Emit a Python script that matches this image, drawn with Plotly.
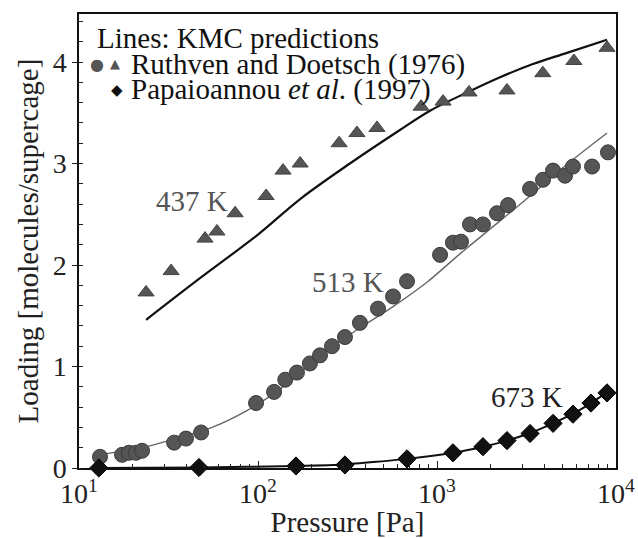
import plotly.graph_objects as go

# 437 K - Ruthven and Doetsch (1976), triangles
p_437 = [23.7, 32.7, 50.6, 59, 74.5, 111, 138, 172, 284, 357, 462, 815, 1081, 1510, 2460, 3900, 5820, 8910]
q_437 = [1.73, 1.94, 2.26, 2.33, 2.51, 2.68, 2.93, 3.00, 3.20, 3.30, 3.35, 3.56, 3.61, 3.70, 3.72, 3.89, 4.01, 4.14]

# 513 K - Ruthven and Doetsch (1976), circles
p_513 = [13.1, 17.4, 19.0, 20.8, 22.5, 34.0, 39.6, 48.1, 97.5, 123, 142, 165, 195, 222, 259, 306,
         371, 468, 568, 680, 1040, 1228, 1361, 1528, 1806, 2163, 2494, 3310, 3911, 4449, 5190, 5750, 7350, 9020]
q_513 = [0.11, 0.13, 0.15, 0.15, 0.17, 0.25, 0.29, 0.35, 0.64, 0.75, 0.87, 0.94, 1.03, 1.11, 1.20, 1.29,
         1.43, 1.57, 1.69, 1.84, 2.10, 2.22, 2.23, 2.40, 2.40, 2.51, 2.59, 2.75, 2.84, 2.93, 2.88, 2.97, 2.97, 3.11]

# 673 K - Papaioannou et al. (1997), diamonds
p_673 = [12.9, 46.8, 163, 306, 680, 1228, 1806, 2460, 3310, 4450, 5750, 7250, 8910]
q_673 = [0.0, 0.005, 0.02, 0.03, 0.09, 0.15, 0.21, 0.27, 0.34, 0.44, 0.53, 0.64, 0.74]

# KMC predictions (lines)
kmc_p_437 = [23.7, 47.4, 100, 172, 326, 621, 914, 1472, 2250, 3436, 5321, 8913]
kmc_q_437 = [1.46, 1.87, 2.30, 2.65, 3.00, 3.33, 3.52, 3.70, 3.85, 3.98, 4.09, 4.22]

kmc_p_513 = [13.1, 23.7, 36.2, 55.4, 85.7, 131, 243, 371, 568, 879, 1343, 2163, 3310, 5060, 8910]
kmc_q_513 = [0.13, 0.21, 0.30, 0.40, 0.56, 0.77, 1.16, 1.38, 1.59, 1.83, 2.11, 2.41, 2.68, 2.96, 3.30]

kmc_p_673 = [12.9, 46.8, 163, 306, 680, 1228, 1806, 2460, 3310, 4450, 5750, 7250, 8910]
kmc_q_673 = [0.0, 0.005, 0.02, 0.035, 0.09, 0.15, 0.21, 0.27, 0.345, 0.44, 0.535, 0.64, 0.745]

x_tickvals = [10, 100, 1000, 10000]
x_ticktext = ["10<sup>1</sup>", "10<sup>2</sup>", "10<sup>3</sup>", "10<sup>4</sup>"]

FONT = "Liberation Serif"
GREY = "#555555"

fig = go.Figure()

fig.add_trace(go.Scatter(x=kmc_p_437, y=kmc_q_437, mode="lines", cliponaxis=False,
                         line=dict(color="#111111", width=2.2, shape="spline", smoothing=1.0)))
fig.add_trace(go.Scatter(x=kmc_p_513, y=kmc_q_513, mode="lines", cliponaxis=False,
                         line=dict(color="#666666", width=1.4, shape="spline", smoothing=0.8)))
fig.add_trace(go.Scatter(x=kmc_p_673, y=kmc_q_673, mode="lines", cliponaxis=False,
                         line=dict(color="#111111", width=2, shape="spline", smoothing=0.4)))

fig.add_trace(go.Scatter(x=p_437, y=q_437, mode="markers", cliponaxis=False,
                         marker=dict(symbol="triangle-up", size=14, color=GREY,
                                     line=dict(color="#444444", width=1))))
fig.add_trace(go.Scatter(x=p_513, y=q_513, mode="markers", cliponaxis=False,
                         marker=dict(symbol="circle", size=15, color=GREY,
                                     line=dict(color="#3a3a3a", width=1))))
fig.add_trace(go.Scatter(x=p_673, y=q_673, mode="markers", cliponaxis=False,
                         marker=dict(symbol="diamond", size=14, color="#111111",
                                     line=dict(color="#000000", width=1))))

# temperature labels
fig.add_annotation(x=1.631, y=2.63, text="437 K", showarrow=False,
                   font=dict(family=FONT, size=29, color=GREY))
fig.add_annotation(x=2.503, y=1.83, text="513 K", showarrow=False,
                   font=dict(family=FONT, size=29, color=GREY))
fig.add_annotation(x=3.503, y=0.70, text="673 K", showarrow=False,
                   font=dict(family=FONT, size=29, color="#222222"))

# legend block
legend_rows = [
    dict(x=0.030, y=0.947, xanchor="left", text="Lines: KMC predictions",
         font=dict(family=FONT, size=29, color="#111111")),
    dict(x=0.034, y=0.888, xanchor="center", text="●",
         font=dict(family="DejaVu Sans", size=16, color=GREY)),
    dict(x=0.067, y=0.890, xanchor="center", text="▲",
         font=dict(family="DejaVu Sans", size=13, color=GREY)),
    dict(x=0.0935, y=0.888, xanchor="left", text="Ruthven and Doetsch (1976)",
         font=dict(family=FONT, size=29, color="#111111")),
    dict(x=0.071, y=0.833, xanchor="center", text="◆",
         font=dict(family="DejaVu Sans", size=15, color="#111111")),
    dict(x=0.0935, y=0.833, xanchor="left", text="Papaioannou <i>et al</i>. (1997)",
         font=dict(family=FONT, size=29, color="#111111")),
]
for row in legend_rows:
    fig.add_annotation(xref="paper", yref="paper", yanchor="middle", showarrow=False, **row)

fig.update_layout(
    width=638, height=538,
    margin=dict(l=79, r=22, t=14, b=70),
    paper_bgcolor="white", plot_bgcolor="white",
    showlegend=False,
    font=dict(family=FONT, size=27, color="#222222"),
)

fig.update_xaxes(
    type="log", range=[1, 4], automargin=False,
    tickvals=x_tickvals, ticktext=x_ticktext,
    ticks="inside", ticklen=7, tickcolor="#222222",
    minor=dict(ticks="inside", ticklen=4, dtick="D1", tickcolor="#222222"),
    showline=True, linecolor="#111111", linewidth=1.5, mirror=True,
    showgrid=False, zeroline=False,
    title=dict(text="Pressure [Pa]", font=dict(family=FONT, size=29), standoff=2),
    tickfont=dict(family=FONT, size=28),
)

fig.update_yaxes(
    range=[0, 4.473], dtick=1, automargin=False,
    ticks="outside", ticklen=5, tickcolor="#222222",
    minor=dict(ticks="inside", ticklen=4, dtick=0.2, tickcolor="#222222"),
    showline=True, linecolor="#111111", linewidth=1.5, mirror=True,
    showgrid=False, zeroline=False,
    title=dict(text="Loading [molecules/supercage]", font=dict(family=FONT, size=29), standoff=6),
    tickfont=dict(family=FONT, size=28),
)

# the page's default body margin would shift the figure by 8 px
fig.write_html("out.html", config={"displayModeBar": False},
               post_script="document.body.style.margin = '0px';")
